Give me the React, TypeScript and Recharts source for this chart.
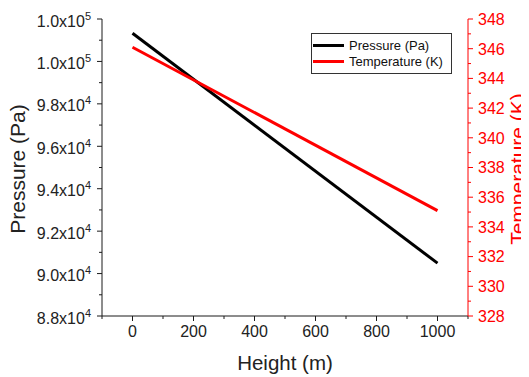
import { LineChart, Line, XAxis, YAxis, Legend } from "recharts";

const heights = [0, 1000];
const pressure = [101325, 90490];
const temperature = [346.1, 335.1];

const xTicks = [-100, 0, 100, 200, 300, 400, 500, 600, 700, 800, 900, 1000, 1100];
const leftTicks = [
  88000, 89000, 90000, 91000, 92000, 93000, 94000, 95000,
  96000, 97000, 98000, 99000, 100000, 101000, 102000,
];
const rightTicks = [
  328, 329, 330, 331, 332, 333, 334, 335, 336, 337, 338,
  339, 340, 341, 342, 343, 344, 345, 346, 347, 348,
];

const data = heights.map((h, i) => ({
  height: h,
  pressure: pressure[i],
  temperature: temperature[i],
}));

const FONT = "'Liberation Sans', Arial, sans-serif";
const AXIS = "#1a1a1a";
const RED = "#ff0000";

// tickSize/tickMargin are 0, so x/y arrive on the axis line itself
const LeftTick = ({ x, y, payload }: any) => {
  const v = payload.value as number;
  const major = v % 2000 === 0;
  if (!major) return <line x1={x - 3} x2={x} y1={y} y2={y} stroke={AXIS} />;
  const exp = Math.floor(Math.log10(v));
  const mant = (v / Math.pow(10, exp)).toFixed(1);
  return (
    <g>
      <line x1={x - 5} x2={x} y1={y} y2={y} stroke={AXIS} />
      <text x={x - 11} y={y + 7.5} textAnchor="end" fontSize={16} fill="#222" fontFamily={FONT}>
        {mant}x10
        <tspan dy={-7} fontSize={11}>{exp}</tspan>
      </text>
    </g>
  );
};

const RightTick = ({ x, y, payload }: any) => {
  const v = payload.value as number;
  const major = v % 2 === 0;
  return (
    <g>
      <line x1={x} x2={x + (major ? 5 : 3)} y1={y} y2={y} stroke={RED} />
      {major ? (
        <text x={x + 10} y={y + 5.8} fontSize={16} fill={RED} fontFamily={FONT}>
          {v}
        </text>
      ) : null}
    </g>
  );
};

const BottomTick = ({ x, y, payload }: any) => {
  const v = payload.value as number;
  const major = v % 200 === 0;
  return (
    <g>
      <line x1={x} x2={x} y1={y} y2={y + (major ? 5 : 3)} stroke={AXIS} />
      {major ? (
        <text x={x} y={y + 21} textAnchor="middle" fontSize={16} fill="#222" fontFamily={FONT}>
          {v}
        </text>
      ) : null}
    </g>
  );
};

const TopTick = ({ x, y, payload }: any) => {
  const major = (payload.value as number) % 200 === 0;
  return <line x1={x} x2={x} y1={y} y2={y + (major ? 5 : 3)} stroke={AXIS} />;
};

const LegendBox = ({ payload }: any) => (
  <div
    style={{
      border: "1px solid #333",
      background: "#fff",
      padding: "3px 1px",
      boxSizing: "border-box",
      width: 141,
      fontFamily: FONT,
      fontSize: 13,
      color: "#111",
    }}
  >
    {(payload || []).map((p: any) => (
      <div key={p.value} style={{ display: "flex", alignItems: "center", height: 16.6 }}>
        <span style={{ display: "inline-block", width: 31, height: 3, background: p.color, marginRight: 5 }} />
        <span>{p.value}</span>
      </div>
    ))}
  </div>
);

export default function App() {
  return (
    <div style={{ width: 521, height: 369, fontFamily: FONT }}>
      <LineChart width={521} height={369} data={data} margin={{ top: 11, right: 0, bottom: 0, left: 0 }}>
        <XAxis
          dataKey="height"
          type="number"
          domain={[-100, 1100]}
          ticks={xTicks}
          interval={0}
          tickSize={0}
          tickMargin={0}
          tick={<BottomTick />}
          height={61}
          axisLine={{ stroke: AXIS }}
          label={() => (
            <text x={277} y={362} textAnchor="middle" fontSize={20.5} fill="#222" fontFamily={FONT}>
              Height (m)
            </text>
          )}
        />
        <XAxis
          xAxisId="top"
          orientation="top"
          type="number"
          domain={[-100, 1100]}
          allowDataOverflow
          ticks={xTicks}
          interval={0}
          tickSize={0}
          tickMargin={0}
          tick={<TopTick />}
          height={0}
          axisLine={{ stroke: "#333" }}
        />
        <YAxis
          yAxisId="left"
          type="number"
          domain={[88000, 102000]}
          ticks={leftTicks}
          interval={0}
          tickSize={0}
          tickMargin={0}
          tick={<LeftTick />}
          width={94}
          axisLine={{ stroke: AXIS }}
          label={() => (
            <text
              x={10}
              y={161}
              dy="0.35em"
              textAnchor="middle"
              transform="rotate(-90, 10, 161)"
              fontSize={21}
              fill="#222"
              fontFamily={FONT}
            >
              Pressure (Pa)
            </text>
          )}
        />
        <YAxis
          yAxisId="right"
          orientation="right"
          type="number"
          domain={[328, 348]}
          ticks={rightTicks}
          interval={0}
          tickSize={0}
          tickMargin={0}
          tick={<RightTick />}
          width={61}
          axisLine={{ stroke: RED }}
          label={() => (
            <text
              x={510}
              y={161}
              dy="0.35em"
              textAnchor="middle"
              transform="rotate(-90, 510, 161)"
              fontSize={21}
              fill={RED}
              fontFamily={FONT}
            >
              Temperature (K)
            </text>
          )}
        />
        <Legend
          layout="horizontal"
          verticalAlign="middle"
          align="center"
          content={<LegendBox />}
          wrapperStyle={{ left: 303, top: 25, width: 141 }}
        />
        <Line
          yAxisId="left"
          dataKey="pressure"
          name="Pressure (Pa)"
          stroke="#000"
          strokeWidth={3}
          dot={false}
          isAnimationActive={false}
        />
        <Line
          yAxisId="right"
          dataKey="temperature"
          name="Temperature (K)"
          stroke={RED}
          strokeWidth={3}
          dot={false}
          isAnimationActive={false}
        />
      </LineChart>
    </div>
  );
}
